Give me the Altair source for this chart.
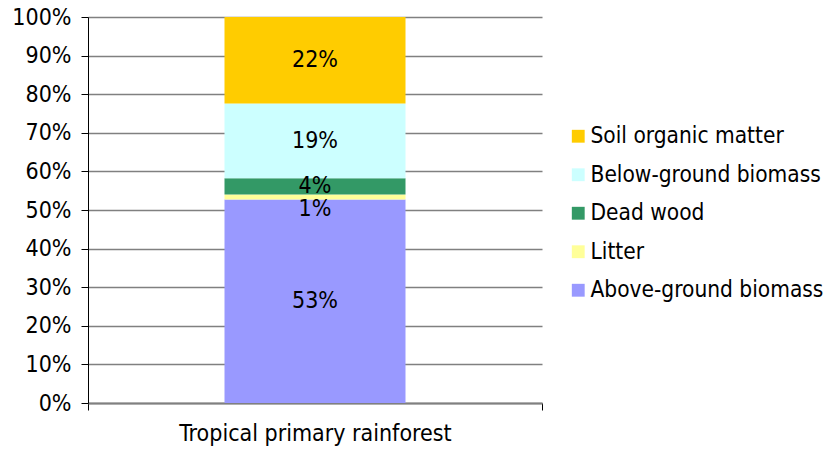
import altair as alt
import pandas as pd

components = ["Above-ground biomass", "Litter", "Dead wood", "Below-ground biomass", "Soil organic matter"]
shares = [0.527, 0.013, 0.042, 0.194, 0.224]
colors = ["#9999FF", "#FFFF99", "#339966", "#CCFFFF", "#FFCC00"]
category = "Tropical primary rainforest"
legend_order = ["Soil organic matter", "Below-ground biomass", "Dead wood", "Litter", "Above-ground biomass"]
ticks = [0.0, 0.1, 0.2, 0.3, 0.4, 0.5, 0.6, 0.7, 0.8, 0.9, 1.0]

FONT = "DejaVu Sans Condensed"
FS = 23
LFS = 22.5

df = pd.DataFrame({"forest": category, "component": components, "share": shares})
df["end"] = df["share"].cumsum()
df["start"] = df["end"] - df["share"]
df["mid"] = (df["start"] + df["end"]) / 2

color_scale = alt.Scale(domain=components, range=colors)
yscale = alt.Scale(domain=[0, 1], nice=False)
xscale = alt.Scale(paddingInner=0, paddingOuter=0)

xaxis = alt.Axis(labelAngle=0, tickBand="extent", tickSize=7, tickColor="black",
                 domainColor="#808080", domainWidth=2, labelFont=FONT,
                 labelFontSize=FS, labelColor="black", labelPadding=12, grid=False,
                 labelLimit=0, title=None)
yaxis = alt.Axis(format=".0%", values=ticks, title=None,
                 tickSize=7, tickColor="black", domainColor="black",
                 gridColor="#808080", gridWidth=1.5, labelFont=FONT,
                 labelFontSize=FS, labelColor="black", labelPadding=10,
                 labelOverlap=False, labelBound=False, labelFlush=False)

bars = alt.Chart(df).mark_bar(size=181).encode(
    x=alt.X("forest:N", title=None, scale=xscale, axis=xaxis),
    y=alt.Y("start:Q", scale=yscale, axis=yaxis, title=None),
    y2="end:Q",
    color=alt.Color("component:N", scale=color_scale,
                    sort=legend_order,
                    legend=alt.Legend(title=None, orient="none", legendX=479, legendY=108,
                                      symbolType="square", symbolSize=165, symbolStrokeWidth=0,
                                      labelFont=FONT, labelFontSize=LFS, labelColor="black",
                                      rowPadding=15.5, labelOffset=1, padding=0, labelLimit=0,
                                      values=legend_order)),
)

labels = alt.Chart(df).transform_filter(alt.datum.component != "Litter").mark_text(
    font=FONT, fontSize=FS, color="black", baseline="middle").encode(
    x=alt.X("forest:N", title=None, scale=xscale, axis=xaxis),
    y=alt.Y("mid:Q", scale=yscale, axis=yaxis, title=None),
    text=alt.Text("share:Q", format=".0%"),
)
litter_label = alt.Chart(df).transform_filter(alt.datum.component == "Litter").mark_text(
    font=FONT, fontSize=FS, color="black", baseline="middle", dy=12).encode(
    x=alt.X("forest:N", title=None, scale=xscale, axis=xaxis),
    y=alt.Y("mid:Q", scale=yscale, axis=yaxis, title=None),
    text=alt.Text("share:Q", format=".0%"),
)

chart = alt.layer(bars, labels, litter_label).properties(
    width=454, height=386,
    autosize=alt.AutoSizeParams(type="none"),
    padding={"left": 80, "top": 9, "right": 287, "bottom": 43},
).configure_view(stroke=None).configure_axis(domainWidth=1)

chart.save("out.html", embed_options={"renderer": "svg", "actions": False})
